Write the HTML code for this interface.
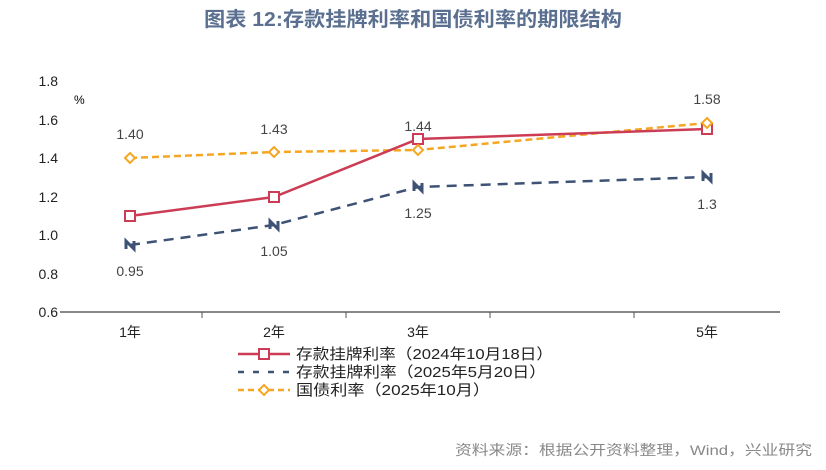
<!DOCTYPE html>
<html><head><meta charset="utf-8"><style>
body{margin:0;background:#fff;width:826px;height:465px;overflow:hidden}
svg text{font-family:"Liberation Sans","Noto Sans CJK SC",sans-serif}
</style></head><body>
<svg width="826" height="465" xmlns="http://www.w3.org/2000/svg">
<text x="204" y="26" font-size="20" font-weight="bold" fill="#5b7090" textLength="418" lengthAdjust="spacingAndGlyphs">图表 12:存款挂牌利率和国债利率的期限结构</text>
<g font-size="14" fill="#222" text-anchor="end">
<text x="58" y="86">1.8</text><text x="58" y="125">1.6</text><text x="58" y="163">1.4</text>
<text x="58" y="202">1.2</text><text x="58" y="240">1.0</text><text x="58" y="279">0.8</text><text x="58" y="317">0.6</text>
</g>
<text x="74" y="104" font-size="12" fill="#000">%</text>
<line x1="60" y1="312" x2="780" y2="312" stroke="#888" stroke-width="2"/>
<g stroke="#555"><line x1="202" y1="312" x2="202" y2="318"/><line x1="346" y1="312" x2="346" y2="318"/><line x1="490" y1="312" x2="490" y2="318"/><line x1="634" y1="312" x2="634" y2="318"/></g>
<g font-size="14" fill="#222" text-anchor="middle" font-family="Liberation Serif,Noto Serif CJK SC,serif">
<text x="130" y="337">1年</text><text x="274" y="337">2年</text><text x="418" y="337">3年</text><text x="707" y="337">5年</text>
</g>
<polyline points="130,158 274,152 418,150 707,123" fill="none" stroke="#f5a623" stroke-width="2.5" stroke-dasharray="7,4"/>
<polyline points="130,245 274,225 418,187 707,177" fill="none" stroke="#3e5275" stroke-width="2.5" stroke-dasharray="10,7"/>
<polyline points="130,216 274,197 418,139 707,129" fill="none" stroke="#cc3d55" stroke-width="2.5"/>
<g fill="#fff" stroke="#cc3d55" stroke-width="2"><rect x="125" y="211" width="10" height="10"/><rect x="269" y="192" width="10" height="10"/><rect x="413" y="134" width="10" height="10"/><rect x="702" y="124" width="10" height="10"/></g>
<g fill="#fff" stroke="#f5a623" stroke-width="2"><path d="M130 153l5 5-5 5-5-5z"/><path d="M274 147l5 5-5 5-5-5z"/><path d="M418 145l5 5-5 5-5-5z"/><path d="M707 118l5 5-5 5-5-5z"/></g>
<g stroke="#3e5275" stroke-width="3" fill="none"><path d="M126 249v-8l8 8v-8"/><path d="M270 229v-8l8 8v-8"/><path d="M414 191v-8l8 8v-8"/><path d="M703 181v-8l8 8v-8"/></g>
<g font-size="14" fill="#444" text-anchor="middle">
<text x="130" y="139">1.40</text><text x="274" y="134">1.43</text><text x="418" y="131">1.44</text><text x="707" y="104">1.58</text>
<text x="130" y="276">0.95</text><text x="274" y="256">1.05</text><text x="418" y="218">1.25</text><text x="707" y="209">1.3</text>
</g>
<g font-size="15" fill="#222">
<line x1="238" y1="354" x2="290" y2="354" stroke="#cc3d55" stroke-width="2.5"/><rect x="259" y="349" width="10" height="10" fill="#fff" stroke="#cc3d55" stroke-width="2"/>
<text x="296" y="359" textLength="257" lengthAdjust="spacingAndGlyphs">存款挂牌利率（2024年10月18日）</text>
<line x1="238" y1="372" x2="290" y2="372" stroke="#3e5275" stroke-width="2.5" stroke-dasharray="6,9"/>
<text x="296" y="377" textLength="250" lengthAdjust="spacingAndGlyphs">存款挂牌利率（2025年5月20日）</text>
<line x1="238" y1="390" x2="290" y2="390" stroke="#f5a623" stroke-width="2.5" stroke-dasharray="6,4"/><path d="M264 385l5 5-5 5-5-5z" fill="#fff" stroke="#f5a623" stroke-width="2"/>
<text x="296" y="395" textLength="194" lengthAdjust="spacingAndGlyphs">国债利率（2025年10月）</text>
</g>
<text x="455" y="455" font-size="14" fill="#888" textLength="357" lengthAdjust="spacingAndGlyphs">资料来源：根据公开资料整理，Wind，兴业研究</text>
</svg>
</body></html>
